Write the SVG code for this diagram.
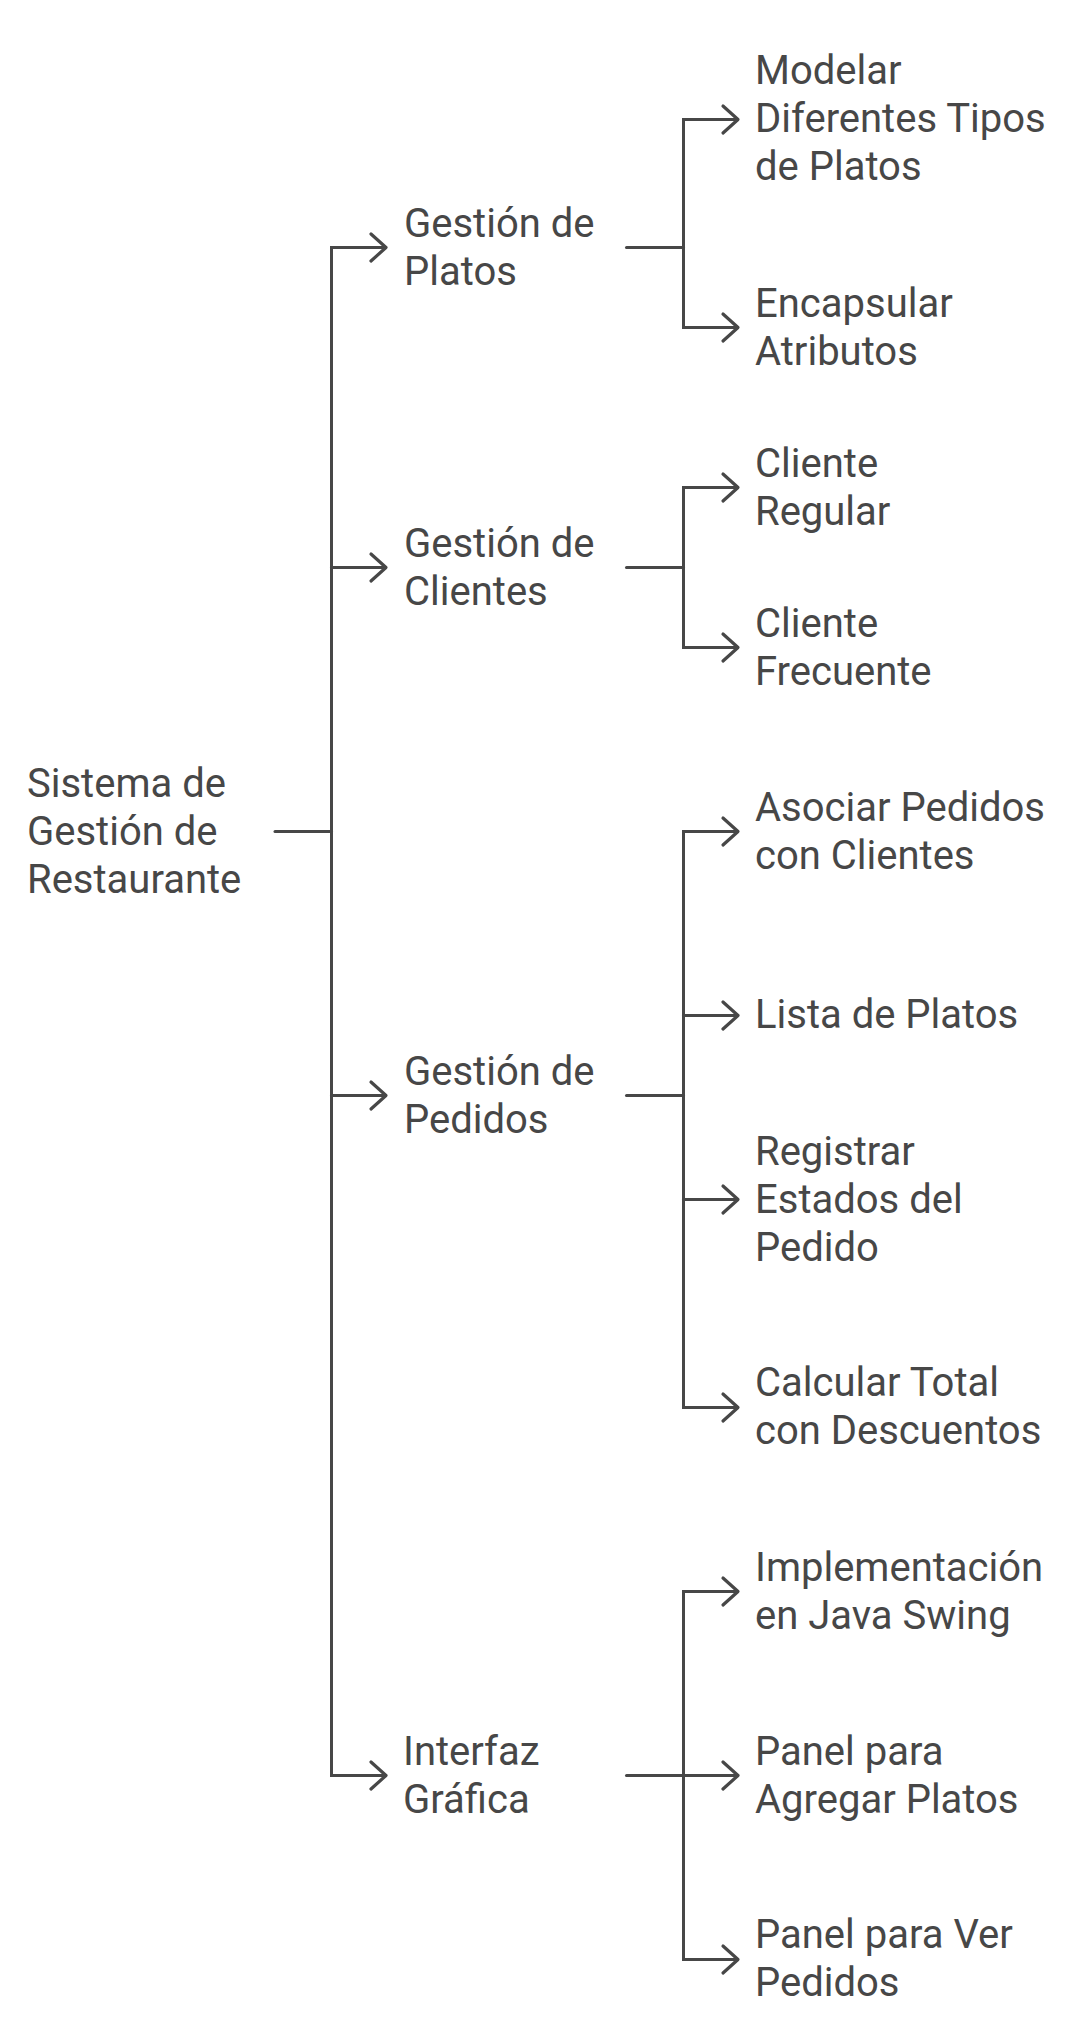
<svg xmlns="http://www.w3.org/2000/svg" width="1088" height="2032" viewBox="0 0 1088 2032">
  <defs>
    <style>
      .ln { fill: none; stroke: #474747; stroke-width: 3; stroke-linecap: round; stroke-linejoin: miter; }
      .ah { fill: none; stroke: #474747; stroke-width: 3.2; stroke-linecap: round; stroke-linejoin: round; }
      .tx { font-family: Roboto, "Liberation Sans", sans-serif; font-size: 40px; fill: #474747; }
    </style>
  </defs>
  <rect width="1088" height="2032" fill="#ffffff"/>

  <g id="connectors">
    <path class="ln" d="M275 831.5 H331.5"/>
    <path class="ln" d="M384 247.5 H331.5 V1775.5 H384" stroke-linecap="butt"/>
    <path class="ln" d="M331.5 567.5 H384"/>
    <path class="ln" d="M331.5 1095.5 H384"/>
    <path class="ah" d="M371 234 L386 247.5 L371 261"/>
    <path class="ah" d="M371 554 L386 567.5 L371 581"/>
    <path class="ah" d="M371 1082 L386 1095.5 L371 1109"/>
    <path class="ah" d="M371 1762 L386 1775.5 L371 1789"/>

    <path class="ln" d="M626.5 247.5 H683.5"/>
    <path class="ln" d="M736 119.5 H683.5 V327.5 H736" stroke-linecap="butt"/>
    <path class="ah" d="M723 106 L738 119.5 L723 133"/>
    <path class="ah" d="M723 314 L738 327.5 L723 341"/>

    <path class="ln" d="M626.5 567.5 H683.5"/>
    <path class="ln" d="M736 487.5 H683.5 V647.5 H736" stroke-linecap="butt"/>
    <path class="ah" d="M723 474 L738 487.5 L723 501"/>
    <path class="ah" d="M723 634 L738 647.5 L723 661"/>

    <path class="ln" d="M626.5 1095.5 H683.5"/>
    <path class="ln" d="M736 831.5 H683.5 V1407.5 H736" stroke-linecap="butt"/>
    <path class="ln" d="M683.5 1015.5 H736"/>
    <path class="ln" d="M683.5 1199.5 H736"/>
    <path class="ah" d="M723 818 L738 831.5 L723 845"/>
    <path class="ah" d="M723 1002 L738 1015.5 L723 1029"/>
    <path class="ah" d="M723 1186 L738 1199.5 L723 1213"/>
    <path class="ah" d="M723 1394 L738 1407.5 L723 1421"/>

    <path class="ln" d="M626.5 1775.5 H736"/>
    <path class="ln" d="M736 1591.5 H683.5 V1959.5 H736" stroke-linecap="butt"/>
    <path class="ah" d="M723 1578 L738 1591.5 L723 1605"/>
    <path class="ah" d="M723 1762 L738 1775.5 L723 1789"/>
    <path class="ah" d="M723 1946 L738 1959.5 L723 1973"/>
  </g>

  <g id="root">
    <text class="tx"><tspan x="27" y="796.5">Sistema de</tspan><tspan x="27" y="844.5">Gestión de</tspan><tspan x="27" y="892.5">Restaurante</tspan></text>
  </g>

  <g id="gestion-platos">
    <text class="tx"><tspan x="404" y="236.5">Gestión de</tspan><tspan x="404" y="284.5">Platos</tspan></text>
  </g>
  <g id="gestion-clientes">
    <text class="tx"><tspan x="404" y="556.5">Gestión de</tspan><tspan x="404" y="604.5">Clientes</tspan></text>
  </g>
  <g id="gestion-pedidos">
    <text class="tx"><tspan x="404" y="1084.8">Gestión de</tspan><tspan x="404" y="1132.8">Pedidos</tspan></text>
  </g>
  <g id="interfaz-grafica">
    <text class="tx"><tspan x="403" y="1764.8">Interfaz</tspan><tspan x="403" y="1812.8">Gráfica</tspan></text>
  </g>

  <g id="modelar">
    <text class="tx"><tspan x="755" y="84.3">Modelar</tspan><tspan x="755" y="132.3">Diferentes Tipos</tspan><tspan x="755" y="180.3">de Platos</tspan></text>
  </g>
  <g id="encapsular">
    <text class="tx"><tspan x="755" y="316.5">Encapsular</tspan><tspan x="755" y="364.5">Atributos</tspan></text>
  </g>
  <g id="cliente-regular">
    <text class="tx"><tspan x="755" y="476.5">Cliente</tspan><tspan x="755" y="524.5">Regular</tspan></text>
  </g>
  <g id="cliente-frecuente">
    <text class="tx"><tspan x="755" y="636.5">Cliente</tspan><tspan x="755" y="684.5">Frecuente</tspan></text>
  </g>
  <g id="asociar">
    <text class="tx"><tspan x="755" y="820.5">Asociar Pedidos</tspan><tspan x="755" y="868.5">con Clientes</tspan></text>
  </g>
  <g id="lista">
    <text class="tx"><tspan x="755" y="1028.3">Lista de Platos</tspan></text>
  </g>
  <g id="registrar">
    <text class="tx"><tspan x="755" y="1164.8">Registrar</tspan><tspan x="755" y="1212.8">Estados del</tspan><tspan x="755" y="1260.8">Pedido</tspan></text>
  </g>
  <g id="calcular">
    <text class="tx"><tspan x="755" y="1396.1">Calcular Total</tspan><tspan x="755" y="1444.1">con Descuentos</tspan></text>
  </g>
  <g id="implementacion">
    <text class="tx"><tspan x="755" y="1580.5">Implementación</tspan><tspan x="755" y="1628.5">en Java Swing</tspan></text>
  </g>
  <g id="panel-agregar">
    <text class="tx"><tspan x="755" y="1764.5">Panel para</tspan><tspan x="755" y="1812.5">Agregar Platos</tspan></text>
  </g>
  <g id="panel-ver">
    <text class="tx"><tspan x="755" y="1948.1">Panel para Ver</tspan><tspan x="755" y="1996.1">Pedidos</tspan></text>
  </g>
</svg>
